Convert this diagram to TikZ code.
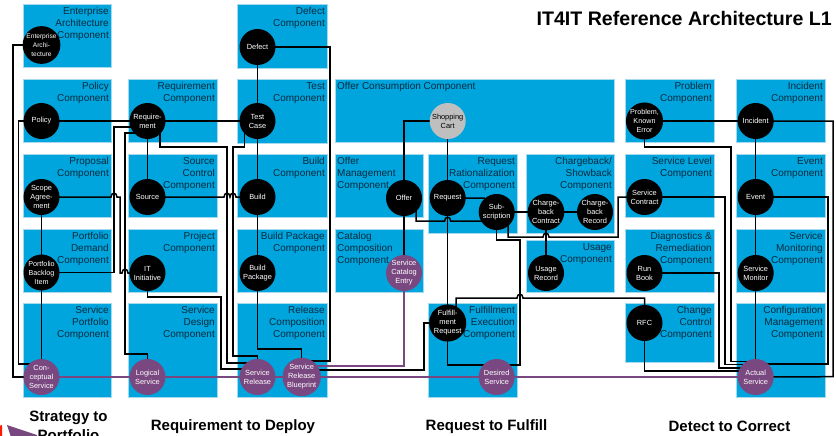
\documentclass[tikz,border=0pt]{standalone}
\usepackage{fontspec}
\setmainfont{Liberation Sans}
\definecolor{compblue}{HTML}{00A5DD}
\definecolor{compedge}{HTML}{A6D9EE}
\definecolor{svcpurple}{HTML}{7A4880}
\definecolor{cartgray}{HTML}{BFBFBF}
\definecolor{labelink}{HTML}{062B3F}
\pgfdeclarelayer{boxes}
\pgfdeclarelayer{links}
\pgfsetlayers{boxes,links,main}
\tikzset{
  compbox/.style={fill=compblue,draw=compedge,line width=0.8pt},
  complabel/.style={anchor=north east,align=right,inner sep=0pt,text=labelink,font=\fontsize{10}{12}\selectfont},
  complabelL/.style={anchor=north west,align=left,inner sep=0pt,text=labelink,font=\fontsize{10}{12}\selectfont},
  dot/.style={circle,minimum size=36pt,inner sep=0pt,align=center,font=\fontsize{7.4}{9}\selectfont,text=white,fill=black},
  svc/.style={dot,fill=svcpurple},
  cart/.style={dot,fill=cartgray,text=black},
  link/.style={draw=black,line width=1.5pt,line join=miter},
  plink/.style={draw=svcpurple,line width=2.6pt},
  heading/.style={font=\fontsize{15}{18}\selectfont\bfseries,align=center,inner sep=0pt,text=black},
}
\newcommand{\compR}[6]{%
  \path[compbox] (#2,#3) rectangle (#4,#5);
  \node[complabel] (#1) at (#4-2,#3+3) {#6};}
\newcommand{\compL}[6]{%
  \path[compbox] (#2,#3) rectangle (#4,#5);
  \node[complabelL] (#1) at (#2+2,#3+3) {#6};}
\begin{document}
\begin{tikzpicture}[x=1pt,y=-1pt]
\path[use as bounding box,clip] (0,0) rectangle (836,436);
\begin{pgfonlayer}{boxes}
\compR{bEA}{23}{4}{111}{67}{Enterprise\\Architecture\\Component}
\compR{bPolicy}{23}{79}{111}{142}{Policy\\Component}
\compR{bProposal}{23}{154}{111}{217}{Proposal\\Component}
\compR{bDemand}{23}{229}{111}{292}{Portfolio\\Demand\\Component}
\compR{bSPort}{23}{303}{111}{397}{Service\\Portfolio\\Component}
\compR{bReq}{128}{79}{217}{142}{Requirement\\Component}
\compR{bSrc}{128}{154}{217}{217}{Source\\Control\\Component}
\compR{bProj}{128}{229}{217}{292}{Project\\Component}
\compR{bDes}{128}{303}{217}{397}{Service\\Design\\Component}
\compR{bDef}{237}{4}{327}{68}{Defect\\Component}
\compR{bTest}{237}{79}{327}{143}{Test\\Component}
\compR{bBuild}{237}{154}{327}{217}{Build\\Component}
\compR{bBP}{237}{229}{327}{292}{Build Package\\Component}
\compR{bRel}{237}{303}{327}{397}{Release\\Composition\\Component}
\compL{bCons}{335}{79}{614}{142}{Offer Consumption Component}
\compL{bOffer}{335}{154}{423}{217}{Offer\\Management\\Component}
\compL{bCat}{335}{229}{423}{292}{Catalog\\Composition\\Component}
\compR{bRat}{428}{154}{517}{233}{Request\\Rationalization\\Component}
\compR{bCharge}{526}{154}{614}{233}{Chargeback/\\Showback\\Component}
\compR{bUsage}{526}{240}{614}{292}{Usage\\Component}
\compR{bFul}{428}{303}{517}{397}{Fulfillment\\Execution\\Component}
\compR{bProb}{625}{79}{714}{142}{Problem\\Component}
\compR{bSL}{625}{154}{714}{217}{Service Level\\Component}
\compR{bDiag}{625}{229}{714}{292}{Diagnostics \&\\Remediation\\Component}
\compR{bChg}{625}{303}{714}{362}{Change\\Control\\Component}
\compR{bInc}{736}{79}{825}{142}{Incident\\Component}
\compR{bEvt}{736}{154}{825}{217}{Event\\Component}
\compR{bMon}{736}{229}{825}{292}{Service\\Monitoring\\Component}
\compR{bCfg}{736}{303}{825}{397}{Configuration\\Management\\Component}
\end{pgfonlayer}

\node[dot,font=\fontsize{6.6}{9}\selectfont] (ea) at (41.5,45) {Enterprise\\Archi-\\tecture};
\node[dot] (policy) at (41.5,121) {Policy};
\node[dot] (scope) at (41.5,197) {Scope\\Agree-\\ment};
\node[dot,font=\fontsize{7.2}{9}\selectfont] (backlog) at (41.5,272.5) {Portfolio\\Backlog\\Item};
\node[svc] (concept) at (41.5,377) {Con-\\ceptual\\Service};
\node[dot] (req) at (147.5,121) {Require-\\ment};
\node[dot] (source) at (147.5,197) {Source};
\node[dot] (init) at (147.5,273) {IT\\Initiative};
\node[svc] (logical) at (147.5,377) {Logical\\Service};
\node[dot] (defect) at (257.5,47) {Defect};
\node[dot] (test) at (257.5,121) {Test\\Case};
\node[dot] (build) at (257.5,197) {Build};
\node[dot] (bpkg) at (257.5,273) {Build\\Package};
\node[svc] (release) at (257.5,377) {Service\\Release};
\node[svc] (blueprint) at (301.7,377) {Service\\Release\\Blueprint};
\node[cart] (shop) at (447.7,121) {Shopping\\Cart};
\node[dot] (offer) at (404,198) {Offer};
\node[dot] (request) at (447.7,198) {Request};
\node[dot] (sub) at (496.7,212) {Sub-\\scription};
\node[dot] (ccontract) at (546,212) {Charge-\\back\\Contract};
\node[dot] (crecord) at (595,212) {Charge-\\back\\Record};
\node[dot] (usage) at (546,273) {Usage\\Record};
\node[svc] (catalog) at (404,273) {Service\\Catalog\\Entry};
\node[dot] (fulfil) at (447.7,323) {Fulfill-\\ment\\Request};
\node[svc] (desired) at (496.7,377) {Desired\\Service};
\node[dot,font=\fontsize{7.2}{9}\selectfont] (problem) at (644.5,121) {Problem,\\Known\\Error};
\node[dot] (contract) at (644.5,197) {Service\\Contract};
\node[dot] (runbook) at (644.5,273) {Run\\Book};
\node[dot] (rfc) at (644.5,323) {RFC};
\node[dot] (incident) at (755.7,121) {Incident};
\node[dot] (event) at (755.7,197) {Event};
\node[dot] (monitor) at (755.7,273) {Service\\Monitor};
\node[svc] (actual) at (755.7,377) {Actual\\Service};

\begin{pgfonlayer}{links}
% purple
\path[plink] (concept.center) -- (logical.center);
\path[plink] (logical.center) -- (release.center);
\path[plink] (release.center) -- (blueprint.center);
\path[plink] (blueprint.center) -- (desired.center);
\path[plink] (desired.center) -- (actual.center);
\path[plink] ([yshift=11pt]blueprint.center) -- (404,366) -- (catalog.center);
\path[link] (offer.center) -- (catalog.center);
% strategy column
\path[link] (ea.center) -- (13,45) -- (13,377) -- (concept.center);
\path[link] (policy.center) -- (18.5,121) -- (18.5,364) -- ([yshift=13pt]concept.center);
\path[link] (policy.center) -- (req.center);
\path[link] (req.center) -- (test.center);
\path[link] (scope.center) -- (backlog.center);
\path[link] (backlog.center) -- (concept.center);
\path[link] (backlog.center) -- (114,272.5) -- (114,127) -- ([yshift=-6pt]req.center);
\path[link] (scope.center) -- (111,197) .. controls (111,192) and (117,192) .. (117,197) -- (120,197) -- (120,273)
  -- (122,273) .. controls (122,268) and (128,268) .. (128,273) -- (init.center);
% requirement column
\path[link] ([yshift=-12pt]req.center) -- (125,133) -- (125,354) -- (147.5,354) -- (logical.center);
\path[link] (req.center) -- (source.center);
\path[link] ([xshift=12.5pt]req.center) -- (160,147) -- (227,147) -- (227,363) -- ([yshift=14pt]release.center);
\path[link] (source.center) -- (224,197) .. controls (224,192) and (230,192) .. (230,197)
  .. controls (230,192) and (236,192) .. (236,197) -- (build.center);
\path[link] ([xshift=-13pt]test.center) -- (244.5,147) -- (233,147) -- (233,356) -- (257.5,356) -- (release.center);
\path[link] (init.center) -- (147.5,297) -- (221,297) -- (221,369) -- ([yshift=8pt]release.center);
% build column
\path[link] (defect.center) -- (test.center);
\path[link] (test.center) -- (build.center);
\path[link] (build.center) -- (bpkg.center);
\path[link] (bpkg.center) -- (257.5,349) -- (301.7,349) -- (blueprint.center);
\path[link] (defect.center) -- (330,47) -- (330,361) -- ([yshift=16pt]blueprint.center);
\path[link] ([yshift=7pt]blueprint.center) -- (424,370) -- (424,323) -- (fulfil.center);
% fulfilment
\path[link] (offer.center) -- (404,121) -- (shop.center);
\path[link] (shop.center) -- (request.center);
\path[link] (request.center) -- (fulfil.center);
\path[link] ([xshift=12pt]offer.center) -- (416,221) -- (444.7,221) .. controls (444.7,216) and (450.7,216) .. (450.7,221) -- ([yshift=-9pt]sub.center);
\path[link] (request.center) -- (484,198) -- (sub.center);
\path[link] (sub.center) -- (ccontract.center);
\path[link] (ccontract.center) -- (crecord.center);
\path[link] (usage.center) -- (ccontract.center);
\path[link] (sub.center) -- (496.7,240) -- (520,240) -- (520,365) -- (447.7,365) -- (fulfil.center);
\path[link] ([xshift=11.5pt]sub.center) -- (508.2,237) -- (543,237) .. controls (543,232) and (549,232) .. (549,237)
  -- (618,237) -- (618,197) -- (contract.center);
\path[link] ([xshift=8.5pt,yshift=9pt]fulfil.center) -- (456.2,298) -- (517,298) .. controls (517,293) and (523,293) .. (523,298)
  -- (644.5,298) -- (rfc.center);
% correct
\path[link] (problem.center) -- (incident.center);
\path[link] (problem.center) -- (644.5,147) -- (731,147) -- (731,361.5) -- ([yshift=15.5pt]actual.center);
\path[link] (contract.center) -- (725,197) -- (725,364.5) -- ([yshift=12.5pt]actual.center);
\path[link] (runbook.center) -- (719,273) -- (719,368) -- ([yshift=9pt]actual.center);
\path[link] (rfc.center) -- (644.5,371) -- ([yshift=6pt]actual.center);
\path[link] (incident.center) -- (event.center);
\path[link] (event.center) -- (monitor.center);
\path[link] (monitor.center) -- (actual.center);
\path[link] (incident.center) -- (833,121) -- (833,376.7) -- (actual.center);
\path[link] (event.center) -- (828,197) -- (828,364) -- ([yshift=13pt]actual.center);
\end{pgfonlayer}

\node[anchor=east,inner sep=0pt,font=\fontsize{19.6}{23}\selectfont\bfseries] (title) at (832,18) {IT4IT Reference Architecture L1};
\node[heading] (h1) at (68.5,418) {Strategy to};
\node[heading] (h1b) at (68.5,435.5) {Portfolio};
\node[heading] (h2) at (233,426.5) {Requirement to Deploy};
\node[heading] (h3) at (486.5,426.5) {Request to Fulfill};
\node[heading] (h4) at (729.5,426.5) {Detect to Correct};
\fill[svcpurple] (7,425) -- (37,435) -- (37,437) -- (11,437) -- cycle;
\fill[red!80!orange] (-1,426) -- (2,425) -- (2,437) -- (-1,437) -- cycle;
\end{tikzpicture}
\end{document}
